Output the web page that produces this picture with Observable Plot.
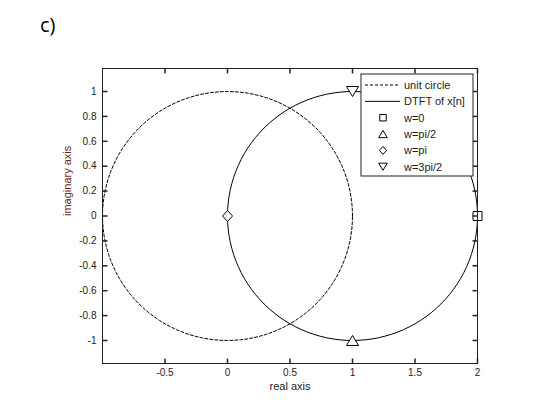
<!DOCTYPE html>
<html><head><meta charset="utf-8">
<script src="https://cdn.jsdelivr.net/npm/d3@7"></script>
<script src="https://cdn.jsdelivr.net/npm/@observablehq/plot@0.6"></script>
<style>
body{margin:0;background:#fff;}
#wrap{position:relative;width:547px;height:419px;}
#title{position:absolute;left:40px;top:11px;font:20px "Open Sans",sans-serif;color:#000;line-height:normal;}
#chart{position:absolute;left:0;top:0;}
</style></head><body>
<div id="wrap"><div id="chart"></div><div id="title">c)</div></div>
<script>
// ---- data ----
const xTicks = [-0.5, 0, 0.5, 1, 1.5, 2];
const yTicks = [-1, -0.8, -0.6, -0.4, -0.2, 0, 0.2, 0.4, 0.6, 0.8, 1];
const xDomain = [-1, 2];
const yDomain = [-1.185, 1.185];
const seriesNames = ["unit circle", "DTFT of x[n]"];
const freqNames = ["w=0", "w=pi/2", "w=pi", "w=3pi/2"];
const freqRe = [2, 1, 0, 1];
const freqIm = [0, -1, 0, 1];
const freqSymbols = ["square", "triangleUp", "diamond", "triangleDown"];

// frequency samples (degrees) for the curves
const omegaDeg = d3.range(0, 361, 3);
// unit circle e^{jw}
const unitCircle = omegaDeg.map(a => { const w = a * Math.PI / 180; return {re: Math.cos(w), im: Math.sin(w)}; });
// DTFT X(w) = 1 + e^{-jw}
const dtft = omegaDeg.map(a => { const w = a * Math.PI / 180; return {re: 1 + Math.cos(w), im: -Math.sin(w)}; });

// ---- symbols ----
function poly(pts) {
  return {draw(ctx) { ctx.moveTo(pts[0][0], pts[0][1]); for (const p of pts.slice(1)) ctx.lineTo(p[0], p[1]); ctx.closePath(); }};
}
function markerShape(kind, s) {
  if (kind === "square") return [[-4.5*s,-4.5*s],[4.5*s,-4.5*s],[4.5*s,4.5*s],[-4.5*s,4.5*s]];
  if (kind === "triangleUp") return [[0,-5*s],[6*s,5*s],[-6*s,5*s]];
  if (kind === "triangleDown") return [[0,5*s],[6*s,-5*s],[-6*s,-5*s]];
  return [[0,-5.5*s],[5*s,0],[0,5.5*s],[-5*s,0]];
}
const tickLen = 5;
const tickUp = {draw(ctx){ ctx.moveTo(0,0); ctx.lineTo(0,-tickLen); }};
const tickDown = {draw(ctx){ ctx.moveTo(0,0); ctx.lineTo(0,tickLen); }};
const tickRight = {draw(ctx){ ctx.moveTo(0,0); ctx.lineTo(tickLen,0); }};
const tickLeft = {draw(ctx){ ctx.moveTo(0,0); ctx.lineTo(-tickLen,0); }};

const points = freqNames.map((n, i) => ({name: n, re: freqRe[i], im: freqIm[i], sym: freqSymbols[i]}));

const plot = Plot.plot({
  width: 547, height: 419,
  marginLeft: 102, marginRight: 70, marginTop: 68, marginBottom: 56,
  style: {fontFamily: '"Liberation Sans", Arial, sans-serif', fontSize: "10px", color: "#222", background: "transparent"},
  x: {domain: xDomain, ticks: xTicks, tickSize: 0, tickPadding: 5, tickFormat: d => String(d), label: null},
  y: {domain: yDomain, ticks: yTicks, tickSize: 0, tickPadding: 6, tickFormat: d => String(d), label: null},
  marks: [
    Plot.line(unitCircle, {x: "re", y: "im", stroke: "#000", strokeWidth: 1, strokeDasharray: "3,2"}),
    Plot.line(dtft, {x: "re", y: "im", stroke: "#000", strokeWidth: 1}),
    ...points.map(p => Plot.dot([p], {x: "re", y: "im", symbol: poly(markerShape(p.sym, 1)), stroke: "#000", fill: "white", strokeWidth: 1})),
    Plot.dot(xTicks, {x: d => d, frameAnchor: "bottom", symbol: tickUp, stroke: "#222"}),
    Plot.dot(xTicks, {x: d => d, frameAnchor: "top", symbol: tickDown, stroke: "#222"}),
    Plot.dot(yTicks, {y: d => d, frameAnchor: "left", symbol: tickRight, stroke: "#222"}),
    Plot.dot(yTicks, {y: d => d, frameAnchor: "right", symbol: tickLeft, stroke: "#222"}),
    Plot.frame({stroke: "#222"}),
    Plot.text(["real axis"], {frameAnchor: "bottom", dy: 26, text: d => d, fontSize: 11, fill: "#222"}),
    Plot.text(["imaginary axis"], {frameAnchor: "left", dx: -35, rotate: -90, text: d => d, fontSize: 11, fill: "#6b2424"})
  ]
});
document.getElementById("chart").appendChild(plot);

// ---- legend ----
const svg = d3.select(plot);
const lg = svg.append("g").attr("font-family", '"Liberation Sans", Arial, sans-serif')
  .attr("font-size", 11).attr("text-anchor", "start");
const lx = 361, ly = 74, lw = 112, lh = 102, row0 = 85, rowStep = 16.35;
lg.append("rect").attr("x", lx).attr("y", ly).attr("width", lw).attr("height", lh)
  .attr("fill", "white").attr("stroke", "#222");
const entries = [
  ...seriesNames.map((n, i) => ({name: n, type: "line", dash: i === 0 ? "3,2" : null})),
  ...points.map(p => ({name: p.name, type: "marker", sym: p.sym}))
];
entries.forEach((e, i) => {
  const y = row0 + i * rowStep;
  if (e.type === "line") {
    const l = lg.append("line").attr("x1", 365).attr("x2", 400).attr("y1", y).attr("y2", y)
      .attr("stroke", "#000").attr("stroke-width", 1);
    if (e.dash) l.attr("stroke-dasharray", e.dash);
  } else {
    const pts = markerShape(e.sym, 0.72);
    lg.append("path").attr("d", "M" + pts.map(p => p.join(",")).join("L") + "Z")
      .attr("transform", `translate(383,${y})`).attr("fill", "none").attr("stroke", "#000");
  }
  lg.append("text").attr("x", 404).attr("y", y).attr("dy", "0.35em").attr("fill", "#222")
    .attr("text-anchor", "start").text(e.name);
});
</script>
</body></html>
